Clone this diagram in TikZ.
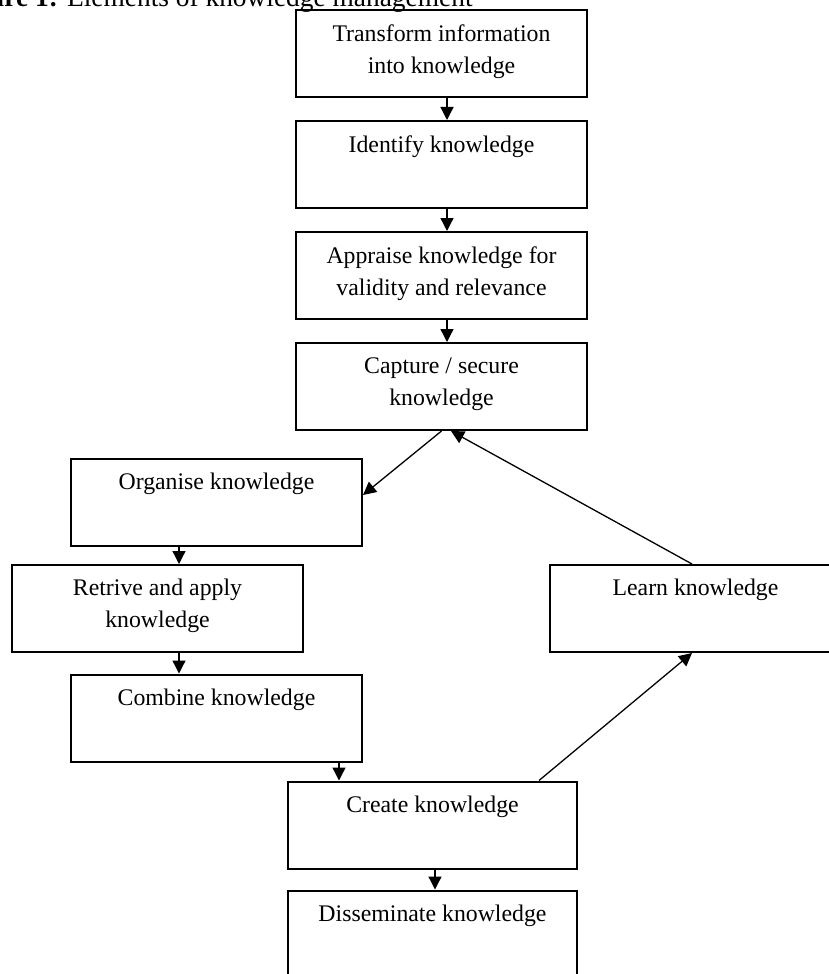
\documentclass[tikz,border=0pt]{standalone}
\usepackage{fontspec}
\setmainfont{Liberation Serif}
\usepackage{tikz}
\usetikzlibrary{positioning, arrows.meta}

\begin{document}
\begin{tikzpicture}[x=0.5pt, y=-0.5pt, node distance=11pt,
    box/.style={draw, line width=1pt, rectangle, minimum width=145.5pt, minimum height=43.5pt,
        align=center, inner sep=0pt, font=\fontsize{11.9}{16}\selectfont},
    arr/.style={-{Triangle[width=6.5pt,length=6.5pt]}, line width=0.65pt}]
    \useasboundingbox (0,0) rectangle (829,974);
    \node[anchor=base east, inner sep=0pt, font=\fontsize{13.7}{16}\selectfont] (title) at (473,7)
        {\textbf{Figure 1:} Elements of knowledge management};

    % main column
    \node[box] (trans) at (441.5,53.5) {Transform information\\into knowledge\strut};
    \node[box, below=of trans] (ident) {Identify knowledge\\\strut};
    \node[box, below=of ident] (apprai) {Appraise knowledge for\\validity and relevance\strut};
    \node[box, below=of apprai] (capt) {Capture / secure\\knowledge\strut};

    % left branch
    \node[box] (organ) at (216.5,502) {Organise knowledge\\\strut};
    \node[box] (retr) at (157.5,608.5) {Retrive and apply\\knowledge\strut};
    \node[box] (comb) at (216.5,718) {Combine knowledge\\\strut};
    \node[box, minimum width=144.5pt] (create) at (432.5,825) {Create knowledge\\\strut};
    \node[box, minimum width=144.5pt] (dissem) at (432.5,934) {Disseminate knowledge\\\strut};

    % right branch
    \node[box] (learn) at (695.5,608.5) {Learn knowledge\\\strut};

    \draw[arr] ([xshift=2.75pt]trans.south) -- ([xshift=2.75pt]ident.north);
    \draw[arr] ([xshift=2.75pt]ident.south) -- ([xshift=2.75pt]apprai.north);
    \draw[arr] ([xshift=2.75pt]apprai.south) -- ([xshift=2.75pt]capt.north);
    \draw[arr] (capt.south) -- ([yshift=3.5pt]organ.east);
    \draw[arr] (organ.south -| 179,0) -- (retr.north -| 179,0);
    \draw[arr] (retr.south -| 179,0) -- (comb.north -| 179,0);
    \draw[arr] (comb.south -| 339,0) -- (create.north -| 339,0);
    \draw[arr] ([xshift=1.25pt]create.south) -- ([xshift=1.25pt]dissem.north);
    \draw[arr] ([xshift=53.25pt]create.north) -- ([xshift=-1.75pt]learn.south);
    \draw[arr] ([xshift=-1.75pt]learn.north) -- ([xshift=4.75pt]capt.south);
\end{tikzpicture}
\end{document}
